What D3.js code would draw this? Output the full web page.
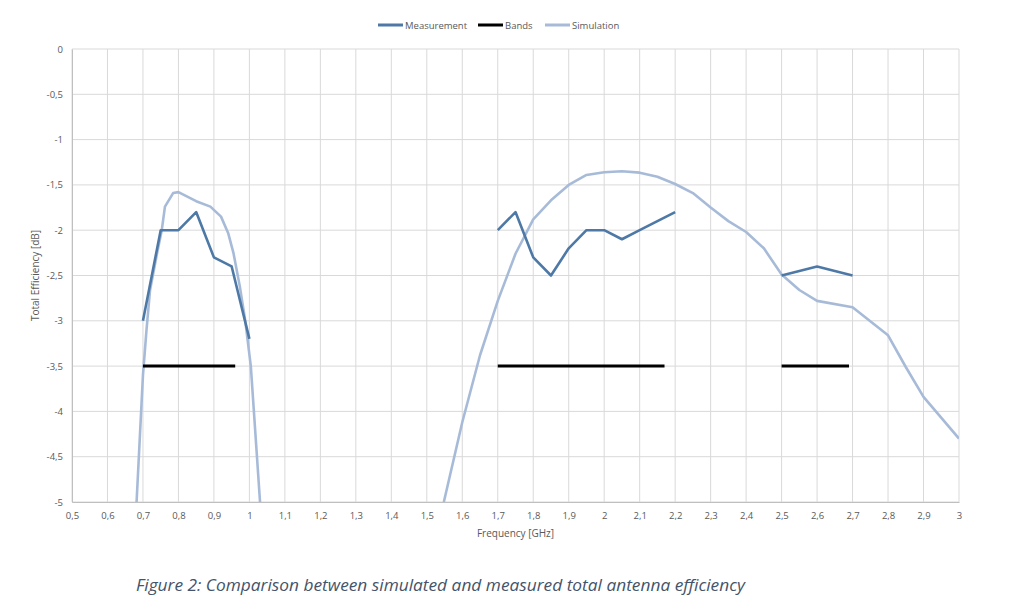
<!DOCTYPE html>
<html>
<head>
<meta charset="utf-8">
<script src="https://cdn.jsdelivr.net/npm/d3@7"></script>
<style>
  body { margin: 0; background: #fff; }
  svg { display: block; }
</style>
</head>
<body>
<svg></svg>
<script>
const [width, height] = [1024, 603];
const margin = { top: 49, right: 65, bottom: 101, left: 72 };

// measured efficiency (null = gap between bands)
const measFreq = [0.7, 0.75, 0.8, 0.85, 0.9, 0.95, 1.0, null,
  1.7, 1.75, 1.8, 1.85, 1.9, 1.95, 2.0, 2.05, 2.1, 2.15, 2.2, null,
  2.5, 2.6, 2.7];
const measEff = [-3.0, -2.0, -2.0, -1.8, -2.3, -2.4, -3.2, null,
  -2.0, -1.8, -2.3, -2.5, -2.2, -2.0, -2.0, -2.1, -2.0, -1.9, -1.8, null,
  -2.5, -2.4, -2.5];

// simulated efficiency
const simFreq = [0.682, 0.7, 0.71, 0.72, 0.74, 0.753, 0.762, 0.785, 0.8, 0.85, 0.89, 0.92, 0.94, 0.955, 0.973, 0.988, 1.004, 1.03, null,
  1.548, 1.6, 1.65, 1.7, 1.75, 1.8, 1.85, 1.9, 1.95, 2.0, 2.05, 2.1, 2.15, 2.2, 2.25, 2.3, 2.35, 2.4, 2.45, 2.5, 2.55, 2.6, 2.7, 2.8, 2.85, 2.9, 3.0];
const simEff = [-5.0, -3.6, -3.1, -2.66, -2.25, -2.0, -1.74, -1.59, -1.58, -1.68, -1.74, -1.85, -2.03, -2.25, -2.62, -2.99, -3.5, -5.0, null,
  -5.0, -4.12, -3.38, -2.78, -2.26, -1.88, -1.67, -1.5, -1.39, -1.36, -1.35, -1.365, -1.41, -1.49, -1.59, -1.75, -1.9, -2.02, -2.2, -2.49, -2.66, -2.78, -2.85, -3.16, -3.51, -3.84, -4.3];

// frequency bands
const bandStart = [0.7, 1.7, 2.5];
const bandEnd = [0.96, 2.17, 2.69];
const bandLevel = -3.5;

const xTicks = d3.range(5, 31).map(d => d / 10);
const yTicks = d3.range(0, 11).map(d => -d / 2);

const fmt = d => String(+d.toFixed(1)).replace('.', ',');

const svg = d3.select('svg').attr('width', width).attr('height', height)
  .style('font-family', "'Open Sans', sans-serif");

const x = d3.scaleLinear().domain([0.5, 3]).range([margin.left, width - margin.right]);
const y = d3.scaleLinear().domain([-5, 0]).range([height - margin.bottom, margin.top]);

// grid
svg.append('g').selectAll('line').data(xTicks).join('line')
  .attr('x1', d => x(d)).attr('x2', d => x(d))
  .attr('y1', y(0)).attr('y2', y(-5))
  .attr('stroke', '#d9d9d9').attr('stroke-width', 1);
svg.append('g').selectAll('line').data(yTicks).join('line')
  .attr('x1', x(0.5)).attr('x2', x(3))
  .attr('y1', d => y(d)).attr('y2', d => y(d))
  .attr('stroke', '#d9d9d9').attr('stroke-width', 1);

// axes
const xAxis = svg.append('g').attr('transform', `translate(0,${y(-5)})`)
  .call(d3.axisBottom(x).tickValues(xTicks).tickFormat(fmt).tickSize(0).tickPadding(10));
const yAxis = svg.append('g').attr('transform', `translate(${x(0.5)},0)`)
  .call(d3.axisLeft(y).tickValues(yTicks).tickFormat(fmt).tickSize(0).tickPadding(9));
[xAxis, yAxis].forEach(a => {
  a.select('.domain').attr('stroke', '#bfbfbf');
  a.selectAll('text').attr('fill', '#595959').style('font-size', '9.5px')
    .style('font-family', "'Open Sans', sans-serif");
});

svg.append('text').attr('x', x(1.75)).attr('y', 537).attr('text-anchor', 'middle')
  .attr('fill', '#595959').style('font-size', '10px').text('Frequency [GHz]');
svg.append('text').attr('transform', `translate(39,${y(-2.5)}) rotate(-90)`)
  .attr('text-anchor', 'middle').attr('fill', '#595959').style('font-size', '10px')
  .text('Total Efficiency [dB]');

// series
svg.append('clipPath').attr('id', 'plot').append('rect')
  .attr('x', x(0.5)).attr('y', y(0)).attr('width', x(3) - x(0.5)).attr('height', y(-5) - y(0));

const line = d3.line().defined(d => d[0] != null)
  .x(d => x(d[0])).y(d => y(d[1]));

const plot = svg.append('g').attr('clip-path', 'url(#plot)');

plot.append('path').datum(simFreq.map((f, i) => [f, simEff[i]]))
  .attr('d', line).attr('fill', 'none').attr('stroke', '#a7bbd8')
  .attr('stroke-width', 2.6).attr('stroke-linejoin', 'round');

plot.selectAll('.band').data(bandStart).join('line').attr('class', 'band')
  .attr('x1', d => x(d)).attr('x2', (d, i) => x(bandEnd[i]))
  .attr('y1', y(bandLevel)).attr('y2', y(bandLevel))
  .attr('stroke', '#000').attr('stroke-width', 3);

plot.append('path').datum(measFreq.map((f, i) => [f, measEff[i]]))
  .attr('d', line).attr('fill', 'none').attr('stroke', '#4e79a6')
  .attr('stroke-width', 2.6).attr('stroke-linejoin', 'round');

// legend
const legendItems = [
  { name: 'Measurement', color: '#4e79a6', x: 378 },
  { name: 'Bands', color: '#000', x: 478 },
  { name: 'Simulation', color: '#a7bbd8', x: 545 }
];
const lg = svg.append('g').selectAll('g').data(legendItems).join('g')
  .attr('transform', d => `translate(${d.x},25)`);
lg.append('line').attr('x1', 0).attr('x2', 25).attr('stroke', d => d.color).attr('stroke-width', 3);
lg.append('text').attr('x', 27).attr('y', 3.5).attr('fill', '#595959')
  .style('font-size', '9.5px').text(d => d.name);

// caption
svg.append('text').attr('x', 136).attr('y', 591)
  .attr('fill', '#44546a').style('font-size', '16.5px').style('font-style', 'italic')
  .attr('textLength', 609).attr('lengthAdjust', 'spacingAndGlyphs')
  .text('Figure 2: Comparison between simulated and measured total antenna efficiency');
</script>
</body>
</html>
